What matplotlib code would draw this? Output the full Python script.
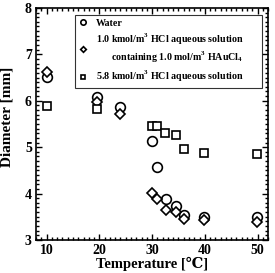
import matplotlib.pyplot as plt
from matplotlib.ticker import MultipleLocator

plt.rcParams['font.family'] = ['Liberation Serif', 'DejaVu Serif']
plt.rcParams['font.weight'] = 'bold'
plt.rcParams['mathtext.fontset'] = 'custom'
plt.rcParams['mathtext.rm'] = 'Liberation Serif:bold'

# Water
t_water = [10, 19.5, 24, 30, 31, 32.6, 34.5, 36, 39.9, 49.9]
d_water = [6.51, 6.08, 5.87, 5.13, 4.58, 3.88, 3.74, 3.54, 3.50, 3.50]

# 1.0 kmol/m3 HCl + 1.0 mol/m3 HAuCl4
t_gold = [10, 19.5, 24, 30, 31, 32.6, 34.5, 36, 39.9, 49.9]
d_gold = [6.61, 5.97, 5.71, 4.01, 3.89, 3.65, 3.61, 3.46, 3.44, 3.39]

# 5.8 kmol/m3 HCl
t_hcl = [10, 19.5, 30, 31, 32.5, 34.5, 36, 39.9, 49.9]
d_hcl = [5.89, 5.83, 5.46, 5.46, 5.30, 5.26, 4.96, 4.88, 4.86]

fig = plt.figure(figsize=(2.75, 2.73), dpi=100)
ax = fig.add_axes([0.131, 0.121, 0.844, 0.85])

ax.plot(t_water, d_water, 'o', mfc='white', mec='black', mew=1.2, ms=7,
        label='Water')
ax.plot(t_gold, d_gold, 'D', mfc='white', mec='black', mew=1.2, ms=5.2,
        label='1.0 kmol/m$^3$ HCl aqueous solution\n      containing 1.0 mol/m$^3$ HAuCl$_4$')
ax.plot(t_hcl, d_hcl, 's', mfc='white', mec='black', mew=1.2, ms=6,
        label='5.8 kmol/m$^3$ HCl aqueous solution')

ax.set_xlim(8, 52)
ax.set_ylim(3, 8)
ax.xaxis.set_major_locator(MultipleLocator(10))
ax.xaxis.set_minor_locator(MultipleLocator(1))
ax.yaxis.set_major_locator(MultipleLocator(1))
ax.yaxis.set_minor_locator(MultipleLocator(0.1))
ax.tick_params(which='both', direction='in', top=True, right=True,
               labelsize=10, width=1, pad=3)
ax.tick_params(which='major', length=4)
ax.tick_params(which='minor', length=2)
for s in ax.spines.values():
    s.set_linewidth(1.2)

ax.set_xlabel('Temperature [\u2103]', fontsize=10.5, fontweight='bold', labelpad=0)
ax.set_ylabel('Diameter [mm]', fontsize=11, fontweight='bold')
ax.yaxis.set_label_coords(-0.095, 0.53)

leg = ax.legend(loc='upper left', bbox_to_anchor=(0.168, 0.72, 0.806, 0.25),
                mode='expand', fontsize=7.2,
                markerscale=0.55, handlelength=0.8, handletextpad=0.9,
                frameon=True, fancybox=False, edgecolor='black',
                borderpad=0.4, labelspacing=0.45, borderaxespad=0)
leg.get_frame().set_linewidth(0.8)

fig.savefig('out.png', dpi=100)
